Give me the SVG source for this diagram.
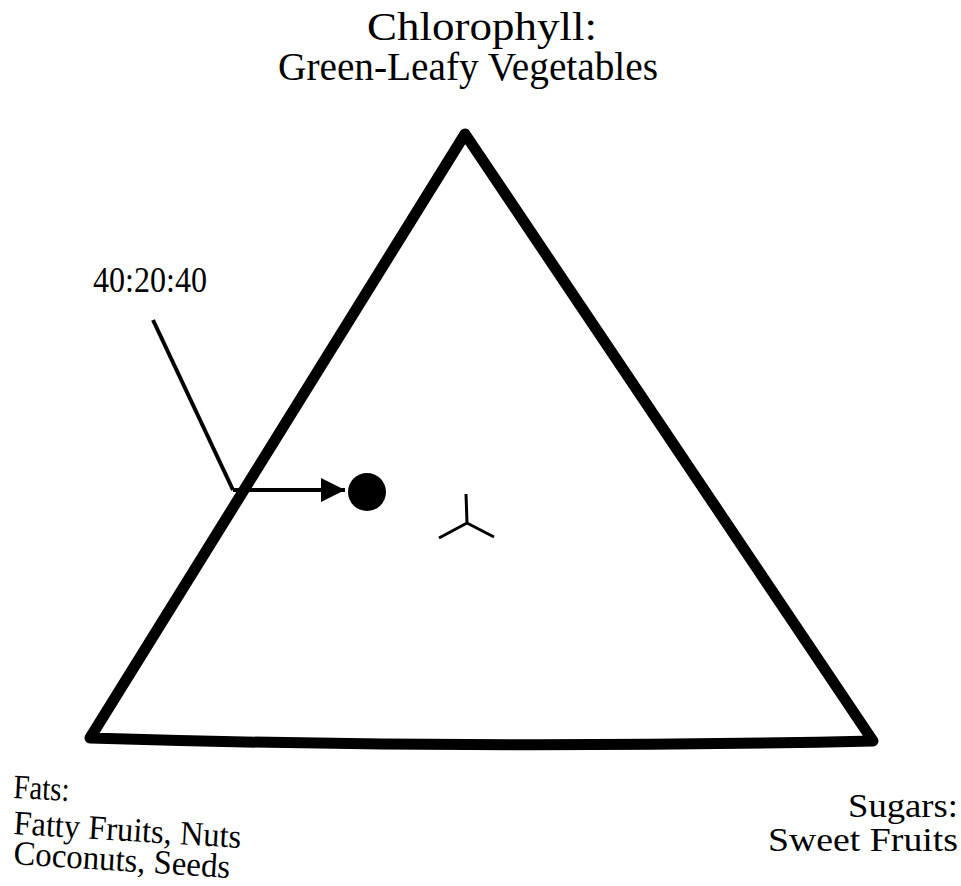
<svg xmlns="http://www.w3.org/2000/svg" width="961" height="886" viewBox="0 0 961 886">
<defs>
<style>
text{font-family:"Liberation Serif","Times New Roman",serif;fill:#000}
.top{font-size:39px}
.mid{font-size:36px}
.sug{font-size:34px}
.fat{font-size:34px}
.tri{fill:none;stroke:#000;stroke-width:11;stroke-linejoin:round;stroke-linecap:round}
.thin{fill:none;stroke:#000;stroke-width:4}
</style>
<marker id="arr" viewBox="0 0 10 10" refX="10" refY="5" markerWidth="27" markerHeight="24" markerUnits="userSpaceOnUse" orient="auto"><path d="M0,0 L10,5 L0,10 z" fill="#000"/></marker>
</defs>
<rect width="961" height="886" fill="#fff"/>
<g id="triangle">
<path class="tri" d="M465,134 L873,741 Q480,750 90,738 Z"/>
</g>
<g id="center">
<path d="M466,494 L467,523 M467,523 L439,538 M467,523 L494,537" fill="none" stroke="#000" stroke-width="3"/>
</g>
<g id="point">
<circle cx="367" cy="492" r="19" fill="#000"/>
</g>
<g id="label-ratio">
<text class="mid" x="93" y="292" textLength="114" lengthAdjust="spacingAndGlyphs">40:20:40</text>
</g>
<g id="label-top">
<text class="top" x="367" y="40" textLength="230" lengthAdjust="spacingAndGlyphs">Chlorophyll:</text>
<text class="top" x="278" y="80" textLength="380" lengthAdjust="spacingAndGlyphs">Green-Leafy Vegetables</text>
</g>
<g id="label-fats">
<text class="fat" x="13" y="798" textLength="56" lengthAdjust="spacingAndGlyphs" transform="rotate(3 13 798)">Fats:</text>
<text class="fat" x="13" y="834" textLength="228" lengthAdjust="spacingAndGlyphs" transform="rotate(3.5 13 834)">Fatty Fruits, Nuts</text>
<text class="fat" x="13" y="864" textLength="217" lengthAdjust="spacingAndGlyphs" transform="rotate(3.7 13 864)">Coconuts, Seeds</text>
</g>
<g id="label-sugars">
<text class="sug" x="848" y="817" textLength="110" lengthAdjust="spacingAndGlyphs">Sugars:</text>
<text class="sug" x="768" y="851" textLength="190" lengthAdjust="spacingAndGlyphs">Sweet Fruits</text>
</g>
<g id="connectors">
<path class="thin" d="M153,320 L233,490"/>
<path class="thin" d="M233,490 L345,490" marker-end="url(#arr)"/>
</g>
</svg>
